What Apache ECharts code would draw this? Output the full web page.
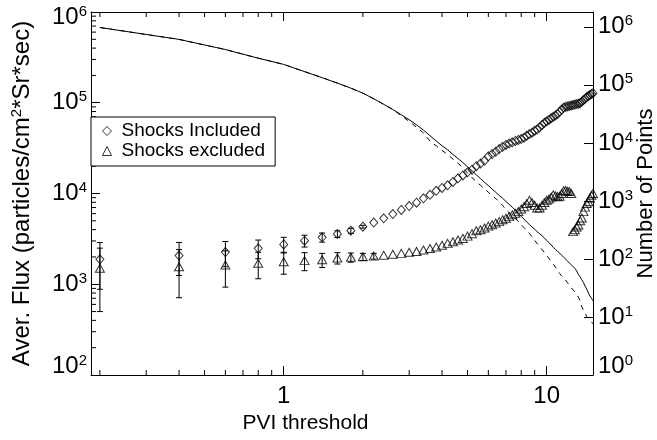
<!DOCTYPE html>
<html>
<head>
<meta charset="utf-8">
<script src="https://cdn.jsdelivr.net/npm/echarts@6/dist/echarts.min.js"></script>
<style>
html, body { margin: 0; padding: 0; background: #fff; }
#chart { width: 657px; height: 440px; }
</style>
</head>
<body>
<div id="chart"></div>
<script>
// PVI threshold values (x)
const pvi = [0.2, 0.4, 0.6, 0.8, 1.0, 1.2, 1.4, 1.6, 1.8, 2.0,
    2.2, 2.4, 2.6, 2.8, 3.0, 3.2, 3.4, 3.6, 3.8, 4.0,
    4.2, 4.4, 4.6, 4.8, 5.0, 5.2, 5.4, 5.6, 5.8, 6.0,
    6.2, 6.4, 6.6, 6.8, 7.0, 7.2, 7.4, 7.6, 7.8, 8.0,
    8.2, 8.4, 8.6, 8.8, 9.0, 9.2, 9.4, 9.6, 9.8, 10.0,
    10.2, 10.4, 10.6, 10.8, 11.0, 11.2, 11.4, 11.6, 11.8, 12.0,
    12.2, 12.4, 12.6, 12.8, 13.0, 13.2, 13.4, 13.6, 13.8, 14.0,
    14.2, 14.4, 14.6, 14.8, 15.0];
// average flux, shocks included (diamonds)
const fluxIncl = [1880, 2070, 2260, 2490, 2750, 3020, 3290, 3580, 3890, 4310,
    4790, 5330, 5940, 6580, 7280, 7930, 8850, 9660, 10700, 11500,
    12300, 13400, 14700, 15800, 17100, 18300, 20000, 21400, 22900, 25700,
    27200, 28800, 30900, 32700, 34300, 35500, 36700, 38000, 38900, 39800,
    41200, 43200, 45200, 46800, 49000, 50700, 53700, 56900, 60300, 62400,
    64600, 67600, 70000, 72400, 75000, 79400, 84100, 88100, 90200, 91200,
    92300, 93300, 94400, 95500, 96600, 97700, 98900, 102300, 107200, 110900,
    114800, 118900, 121600, 124500, 127400];
// average flux, shocks excluded (triangles)
const fluxExcl = [1500, 1560, 1630, 1700, 1770, 1820, 1860, 1950, 1980, 2010,
    2040, 2090, 2140, 2190, 2250, 2300, 2380, 2480, 2570, 2690,
    2820, 2940, 3070, 3200, 3390, 3610, 3890, 3980, 4170, 4370,
    4520, 4730, 4900, 5130, 5330, 5560, 5820, 6050, 6310, 6760,
    7160, 7760, 8410, 7940, 7410, 6920, 6920, 7410, 7940, 8410,
    8710, 9120, 9660, 9440, 9230, 9330, 10000, 10700, 10800, 10600,
    10500, 10000, 3800, 3980, 4270, 4500, 5010, 5370, 6310, 7080,
    7760, 8130, 8910, 9550, 10000];
// error bars (first points only)
const errIncl = [1000, 820, 700, 580, 540, 450, 380, 300, 250, 150];
const errExcl = [1000, 850, 700, 550, 480, 410, 330, 280, 230, 180, 150];
// number of points (right axis)
const countIncl = [973000, 607000, 406000, 288000, 225000, 169000, 133000, 107000, 87700, 71900,
    57500, 46200, 37600, 30500, 25100, 20400, 16600, 13300, 10800, 8910,
    7590, 6310, 5370, 4570, 3890, 3310, 2810, 2430, 2090, 1840,
    1600, 1410, 1240, 1110, 977, 871, 776, 692, 617, 543,
    484, 432, 389, 355, 324, 295, 272, 251, 229, 209,
    191, 174, 158, 145, 135, 126, 116, 107, 100, 92,
    85, 79, 74, 69, 62, 54, 49, 44, 39, 34,
    30, 26, 23, 21, 19];
const countExcl = [973000, 607000, 406000, 288000, 225000, 169000, 133000, 107000, 87700, 71900,
    57500, 46200, 37600, 29500, 23400, 18600, 14800, 10700, 8910, 7410,
    6310, 5250, 4470, 3720, 3020, 2510, 2150, 1860, 1620, 1410,
    1230, 1100, 955, 832, 708, 624, 562, 501, 442, 389,
    347, 309, 275, 240, 209, 184, 162, 145, 129, 115,
    102, 90, 81, 72, 63, 56, 51, 47, 43, 39,
    35, 32, 30, 27, 25, 22, 19, 15, 13, 11.5,
    10.2, 9.5, 8.9, 8.3, 7.6];
// axis ticks
const xTickValues = [1, 10];
const xMinorTicks = [0.2, 0.3, 0.4, 0.5, 0.6, 0.7, 0.8, 0.9, 2, 3, 4, 5, 6, 7, 8, 9];
const leftTickValues = [1e2, 1e3, 1e4, 1e5, 1e6];
const rightTickValues = [1e0, 1e1, 1e2, 1e3, 1e4, 1e5, 1e6];

const FONT = '"Liberation Sans", Arial, Helvetica, sans-serif';
const X_MIN = 0.185, X_MAX = 15;
const Y_MIN = 100, Y_MAX = 1e6;
const R_MIN = 1, R_MAX = 1.8e6;

// 左轴次刻度 2..9 x 10^n
const leftMinorTicks = [];
for (let e = 2; e < 6; e++) {
    for (let m = 2; m <= 9; m++) leftMinorTicks.push(m * Math.pow(10, e));
}

const LABEL_RICH = {
    b: { fontSize: 24, lineHeight: 26, fontFamily: FONT, fill: '#000' },
    s: { fontSize: 15, lineHeight: 15, verticalAlign: 'top', fontFamily: FONT, fill: '#000' }
};

function powLabel(v) {
    return '{b|10}{s|' + Math.round(Math.log10(v)) + '}';
}

function line(x1, y1, x2, y2) {
    return { type: 'line', shape: { x1: x1, y1: y1, x2: x2, y2: y2 }, style: { stroke: '#000', lineWidth: 1 } };
}

function renderErr(params, api) {
    const x = api.value(0);
    const lo = api.coord([x, api.value(1)]);
    const hi = api.coord([x, api.value(2)]);
    return {
        type: 'group',
        children: [
            line(lo[0], lo[1], hi[0], hi[1]),
            line(lo[0] - 3, lo[1], lo[0] + 3, lo[1]),
            line(hi[0] - 3, hi[1], hi[0] + 3, hi[1])
        ]
    };
}

function renderXMinor(params, api) {
    const v = api.value(0);
    const b = api.coord([v, Y_MIN]);
    const t = api.coord([v, Y_MAX]);
    return { type: 'group', children: [line(b[0], b[1], b[0], b[1] - 5), line(t[0], t[1], t[0], t[1] + 5)] };
}

function renderYMinor(params, api) {
    const p = api.coord([api.value(0), api.value(1)]);
    return line(p[0], p[1], p[0] + 5, p[1]);
}

function renderLeftLabel(params, api) {
    const v = api.value(1);
    const p = api.coord([api.value(0), v]);
    let dy = 0;
    if (v === Y_MIN) dy = -8.5;
    if (v === Y_MAX) dy = 5.5;
    return {
        type: 'text', x: p[0] - 4, y: p[1] + dy,
        style: { text: powLabel(v), rich: LABEL_RICH, align: 'right', verticalAlign: 'middle', fill: '#000' }
    };
}

function renderRightLabel(params, api) {
    const v = api.value(1);
    const p = api.coord([api.value(0), v]);
    let dy = 0;
    if (v === R_MIN) dy = -9;
    return {
        type: 'text', x: p[0] + 5, y: p[1] + dy,
        style: { text: powLabel(v), rich: LABEL_RICH, align: 'left', verticalAlign: 'middle', fill: '#000' }
    };
}

const axisLineStyle = { show: true, lineStyle: { color: '#000', width: 1 } };
const tickStyle = { show: true, inside: true, length: 9, lineStyle: { color: '#000', width: 1 } };

let chart = echarts.init(document.getElementById('chart'));
let option = {
    animation: false,
    backgroundColor: '#fff',
    grid: { left: 91, right: 64, top: 12, bottom: 65, containLabel: false, outerBoundsMode: 'none' },
    legend: {
        data: [
            { name: 'Shocks Included', icon: 'diamond', itemStyle: { color: 'transparent', borderColor: '#000', borderWidth: 1 } },
            { name: 'Shocks excluded', icon: 'triangle', itemStyle: { color: 'transparent', borderColor: '#000', borderWidth: 1 } }
        ],
        orient: 'vertical',
        left: 91,
        top: 117,
        itemWidth: 9,
        itemHeight: 9,
        itemGap: 0,
        padding: [4, 10, 5, 11],
        borderColor: '#000',
        borderWidth: 1,
        backgroundColor: '#fff',
        selectedMode: false,
        textStyle: { fontSize: 19, lineHeight: 20, color: '#000', fontFamily: FONT, padding: [0, 0, 0, 5] }
    },
    xAxis: [{
        type: 'log',
        min: X_MIN,
        max: X_MAX,
        position: 'bottom',
        axisLine: axisLineStyle,
        axisTick: tickStyle,
        splitLine: { show: false },
        axisLabel: {
            margin: 9,
            fontSize: 24,
            lineHeight: 24,
            color: '#000',
            fontFamily: FONT,
            formatter: function(v) {
                const e = Math.log10(v);
                if (Math.abs(e - Math.round(e)) > 1e-6) return '';
                return xTickValues.indexOf(Math.round(v)) >= 0 ? String(Math.round(v)) : '';
            }
        },
        name: 'PVI threshold',
        nameLocation: 'middle',
        nameGap: 35,
        nameTextStyle: { fontSize: 21, color: '#000', fontFamily: FONT, padding: [0, 73, 0, 0] }
    }, {
        type: 'log',
        min: X_MIN,
        max: X_MAX,
        position: 'top',
        axisLine: axisLineStyle,
        axisTick: tickStyle,
        axisLabel: { show: false },
        splitLine: { show: false }
    }],
    yAxis: [{
        type: 'log',
        min: Y_MIN,
        max: Y_MAX,
        position: 'left',
        axisLine: axisLineStyle,
        axisTick: tickStyle,
        axisLabel: { show: false },
        splitLine: { show: false },
        name: '{t|Aver. Flux (particles/cm}{s|2}{t|*Sr*sec)}',
        nameLocation: 'middle',
        nameGap: 56,
        nameTextStyle: {
            color: '#000',
            rich: {
                t: { fontSize: 24, lineHeight: 26, fontFamily: FONT, color: '#000' },
                s: { fontSize: 15, lineHeight: 15, verticalAlign: 'top', fontFamily: FONT, color: '#000' }
            }
        }
    }, {
        type: 'log',
        min: R_MIN,
        max: R_MAX,
        position: 'right',
        axisLine: axisLineStyle,
        axisTick: tickStyle,
        axisLabel: { show: false },
        splitLine: { show: false },
        name: 'Number of Points',
        nameLocation: 'middle',
        nameRotate: 90,
        nameGap: 42,
        nameTextStyle: { fontSize: 22, color: '#000', fontFamily: FONT }
    }],
    series: [{
        name: 'countIncl',
        type: 'line',
        xAxisIndex: 0,
        yAxisIndex: 1,
        data: pvi.map((x, i) => [x, countIncl[i]]),
        symbol: 'none',
        silent: true,
        lineStyle: { color: '#000', width: 1 },
        z: 2
    }, {
        name: 'countExcl',
        type: 'line',
        xAxisIndex: 0,
        yAxisIndex: 1,
        data: pvi.map((x, i) => [x, countExcl[i]]),
        symbol: 'none',
        silent: true,
        lineStyle: { color: '#000', width: 1, type: [5, 5] },
        z: 2
    }, {
        name: 'errIncl',
        type: 'custom',
        xAxisIndex: 0,
        yAxisIndex: 0,
        silent: true,
        data: errIncl.map((e, i) => [pvi[i], fluxIncl[i] - e, fluxIncl[i] + e]),
        renderItem: renderErr,
        z: 3
    }, {
        name: 'errExcl',
        type: 'custom',
        xAxisIndex: 0,
        yAxisIndex: 0,
        silent: true,
        data: errExcl.map((e, i) => [pvi[i], fluxExcl[i] - e, fluxExcl[i] + e]),
        renderItem: renderErr,
        z: 3
    }, {
        name: 'Shocks Included',
        type: 'scatter',
        xAxisIndex: 0,
        yAxisIndex: 0,
        data: pvi.map((x, i) => [x, fluxIncl[i]]),
        symbol: 'diamond',
        symbolSize: [8, 9],
        itemStyle: { color: 'transparent', borderColor: '#000', borderWidth: 1 },
        z: 4
    }, {
        name: 'Shocks excluded',
        type: 'scatter',
        xAxisIndex: 0,
        yAxisIndex: 0,
        data: pvi.map((x, i) => [x, fluxExcl[i]]),
        symbol: 'triangle',
        symbolSize: [9, 8],
        itemStyle: { color: 'transparent', borderColor: '#000', borderWidth: 1 },
        z: 4
    }, {
        name: 'xMinor',
        type: 'custom',
        xAxisIndex: 0,
        yAxisIndex: 0,
        silent: true,
        clip: false,
        data: xMinorTicks.map(v => [v, Y_MIN]),
        renderItem: renderXMinor
    }, {
        name: 'yMinor',
        type: 'custom',
        xAxisIndex: 0,
        yAxisIndex: 0,
        silent: true,
        clip: false,
        data: leftMinorTicks.map(v => [X_MIN, v]),
        renderItem: renderYMinor
    }, {
        name: 'leftLabels',
        type: 'custom',
        xAxisIndex: 0,
        yAxisIndex: 0,
        silent: true,
        clip: false,
        data: leftTickValues.map(v => [X_MIN, v]),
        renderItem: renderLeftLabel
    }, {
        name: 'rightLabels',
        type: 'custom',
        xAxisIndex: 0,
        yAxisIndex: 1,
        silent: true,
        clip: false,
        data: rightTickValues.map(v => [X_MAX, v]),
        renderItem: renderRightLabel
    }]
};
chart.setOption(option);
</script>
</body>
</html>
